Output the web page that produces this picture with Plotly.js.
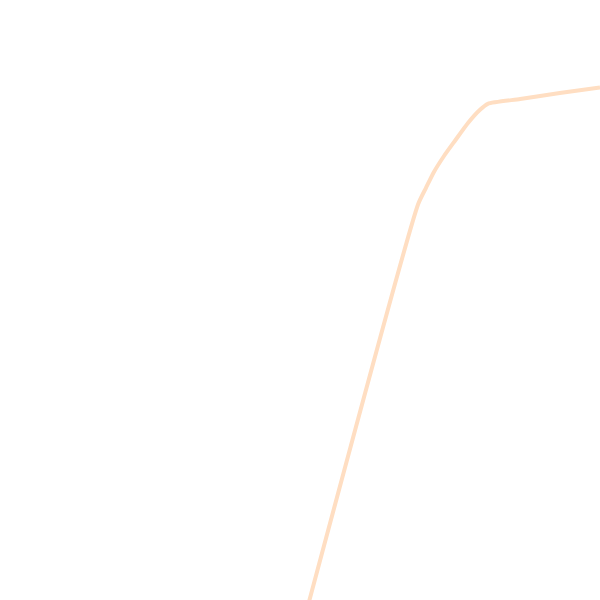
<!DOCTYPE html>
<html>
<head>
<meta charset="utf-8">
<script src="https://cdn.plot.ly/plotly-3.0.1.min.js"></script>
<style>
  html, body { margin: 0; padding: 0; background: #fff; }
  #chart { width: 600px; height: 600px; }
</style>
</head>
<body>
<div id="chart"></div>
<script>
// curve values
const xValues = [51.5, 69.7, 71.0, 72.3, 74.0, 75.8, 78.0, 80.0, 81.3, 86.7, 93.3, 100];
const yValues = [-0.3, 66.0, 68.7, 71.3, 74.0, 76.5, 79.5, 81.7, 82.7, 83.5, 84.5, 85.4];

const trace = {
    x: xValues,
    y: yValues,
    type: 'scatter',
    mode: 'lines',
    line: { color: 'rgb(255,222,194)', width: 4, shape: 'spline', smoothing: 0.6 },
    hoverinfo: 'none',
    showlegend: false
};

const hiddenAxis = {
    visible: false,
    showgrid: false,
    zeroline: false,
    fixedrange: true
};

const layout = {
    width: 600,
    height: 600,
    margin: { l: 0, r: 0, t: 0, b: 0 },
    paper_bgcolor: 'white',
    plot_bgcolor: 'white',
    xaxis: Object.assign({ range: [0, 100] }, hiddenAxis),
    yaxis: Object.assign({ range: [0, 100] }, hiddenAxis),
    showlegend: false
};

Plotly.newPlot('chart', [trace], layout, { displayModeBar: false, staticPlot: true });
</script>
</body>
</html>
